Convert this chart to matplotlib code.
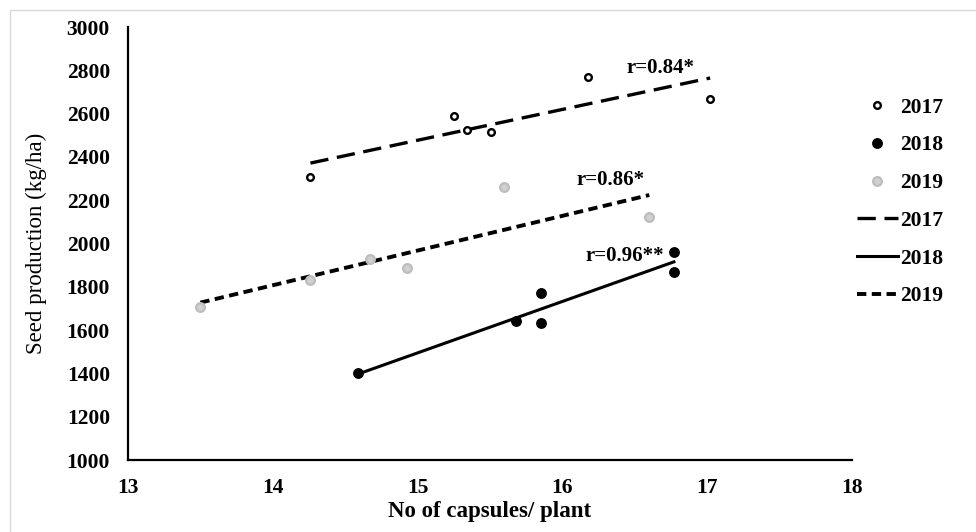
import numpy as np
import matplotlib.pyplot as plt
from matplotlib.patches import Rectangle

# capsules per plant vs seed yield, one set per year
x_2017 = [14.26, 15.25, 15.34, 15.51, 16.18, 17.02]
y_2017 = [2306, 2589, 2524, 2515, 2768, 2669]

x_2018 = [14.59, 15.68, 15.85, 15.85, 16.77, 16.77]
y_2018 = [1400, 1643, 1770, 1634, 1962, 1870]

x_2019 = [13.50, 14.26, 14.67, 14.93, 15.60, 16.60]
y_2019 = [1708, 1831, 1928, 1885, 2260, 2124]

r_labels = ["r=0.84*", "r=0.96**", "r=0.86*"]
r_pos = [(16.68, 2811), (16.43, 1942), (16.33, 2293)]

x_ticks = [13, 14, 15, 16, 17, 18]
y_ticks = list(range(1000, 3001, 200))

plt.rcParams["font.family"] = "Liberation Serif"
plt.rcParams["font.weight"] = "bold"

fig = plt.figure(figsize=(9.76, 5.32), dpi=100)
ax = fig.add_axes([0.1311, 0.1353, 0.873 - 0.1311, 0.949 - 0.1353])

# faint frame around the picture (top/left edges only visible)
fig.patches.append(Rectangle((10 / 976, -0.1), 1.2, 1 - 10 / 532 + 0.1,
                             transform=fig.transFigure, fill=False,
                             edgecolor="#d9d9d9", linewidth=1))

# Points
ax.plot(x_2017, y_2017, "o", ms=4.8, mfc="white", mec="black", mew=1.7,
        label="2017", zorder=3)
ax.plot(x_2018, y_2018, "o", ms=6.8, color="black", label="2018", zorder=3)
ax.plot(x_2019, y_2019, "o", ms=6.3, mfc="#cfcfcf", mec="#bdbdbd", mew=1.6,
        label="2019", zorder=3)

# Linear fits
styles = [
    (x_2017, y_2017, (0, (5.5, 2.6)), 2.4, "2017"),
    (x_2018, y_2018, "-", 2.2, "2018"),
    (x_2019, y_2019, (0, (2.4, 1.4)), 2.8, "2019"),
]
for xs, ys, ls, lw, lab in styles:
    k, b = np.polyfit(xs, ys, 1)
    xx = np.array([min(xs), max(xs)])
    ax.plot(xx, k * xx + b, color="black", linestyle=ls, linewidth=lw,
            label=lab, zorder=2)

for txt, (tx, ty) in zip(r_labels, r_pos):
    ax.text(tx, ty, txt, ha="center", va="center", fontsize=15,
            fontweight="bold")

ax.set_xlim(13, 18)
ax.set_ylim(1000, 3000)
ax.set_xticks(x_ticks)
ax.set_yticks(y_ticks)
ax.tick_params(length=0, labelsize=15.5, pad=13)
for lab in ax.get_xticklabels() + ax.get_yticklabels():
    lab.set_fontweight("bold")

for s in ["top", "right"]:
    ax.spines[s].set_visible(False)
for s in ["left", "bottom"]:
    ax.spines[s].set_linewidth(1.6)

ax.set_xlabel("No of capsules/ plant", fontsize=16.5, fontweight="bold",
              labelpad=2)
ax.set_ylabel("Seed production (kg/ha)", fontsize=16.5, fontweight="normal",
              labelpad=14)

fig.legend(loc="upper left", bbox_to_anchor=(848 / 976, 1 - 89 / 532),
           frameon=False, fontsize=15.5, handlelength=1.9, handletextpad=0.1,
           labelspacing=0.82, borderaxespad=0)

fig.savefig("out.png", dpi=100)
